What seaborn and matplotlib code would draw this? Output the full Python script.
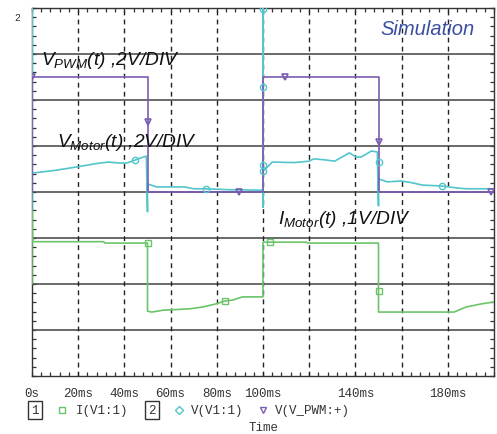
import matplotlib
matplotlib.use("Agg")
import matplotlib.pyplot as plt
from matplotlib.lines import Line2D
from matplotlib.ticker import MultipleLocator, FixedLocator
import seaborn as sns
import pandas as pd

# ---- waveform data (time in ms, amplitude in screen divisions) ----
pwm_t = [0, 0, 50, 50, 100, 100, 150, 150, 200]
pwm_v = [4.0, 6.5, 6.5, 4.0, 4.0, 6.5, 6.5, 4.0, 4.0]

motor_v_t = [0, 0, 0, 10, 20, 28, 33, 38, 41, 45, 47, 49.5,
             50, 50, 50.3, 54, 66, 70, 75, 85, 100,
             100, 100, 100, 100.3, 104, 113.6, 120, 122, 126.6, 131, 137.4, 140.4, 142.5, 146.9, 149.5,
             150, 150, 150.3, 153.8, 159.8, 164.6, 169, 177.5, 183.6, 188, 200]
motor_v_v = [3.6, 8.6, 4.41, 4.47, 4.55, 4.62, 4.65, 4.63, 4.63, 4.70, 4.74, 4.78,
             3.57, 4.17, 4.17, 4.11, 4.11, 4.07, 4.07, 4.05, 4.04,
             3.67, 8.6, 4.60, 4.46, 4.65, 4.64, 4.67, 4.72, 4.70, 4.67, 4.85, 4.76, 4.76, 4.89, 4.87,
             3.70, 4.28, 4.28, 4.22, 4.24, 4.20, 4.15, 4.13, 4.09, 4.07, 4.07]

motor_i_t = [0, 0, 0.3, 31, 31.5, 50, 50, 51.8, 54.4, 56.6, 68.3, 73.9, 79.9, 83.4, 86.8, 91.1, 100,
             100, 118.8, 119.3, 150, 150, 182.7, 187.9, 194.8, 200]
motor_i_v = [2.0, 3.6, 2.92, 2.92, 2.89, 2.89, 1.41, 1.39, 1.41, 1.43, 1.46, 1.50, 1.57, 1.63, 1.65, 1.72, 1.72,
             2.91, 2.91, 2.89, 2.89, 1.39, 1.39, 1.50, 1.57, 1.61]

# trace symbols placed along each waveform
pwm_mark_t = [0, 50, 89.8, 109.7, 150.3, 198.7]
pwm_mark_v = [6.5, 5.52, 4.0, 6.5, 5.08, 4.0]
motor_v_mark_t = [44.5, 75.5, 100, 100, 100, 100, 150.3, 177.5]
motor_v_mark_v = [4.70, 4.07, 7.98, 6.28, 4.59, 4.46, 4.65, 4.13]
motor_i_mark_t = [50, 83.4, 103, 150.3]
motor_i_mark_v = [2.89, 1.63, 2.92, 1.85]

x_ticks = [0, 20, 40, 60, 80, 100, 120, 140, 160, 180, 200]
x_tick_labels = ["0s", "20ms", "40ms", "60ms", "80ms", "100ms", "", "140ms", "", "180ms", ""]

C_PWM = "#7a5cb2"
C_VM = "#52c6cb"
C_IM = "#6cc46a"
C_TXT = "#333333"

sns.set_theme(style="white")
plt.rcParams["mathtext.fontset"] = "custom"
plt.rcParams["mathtext.it"] = "Liberation Sans:italic"
plt.rcParams["mathtext.rm"] = "Liberation Sans:italic"
plt.rcParams["mathtext.default"] = "it"

W, H = 497, 435
fig = plt.figure(figsize=(W / 100, H / 100), dpi=100)
ax = fig.add_axes([32 / W, 1 - 377 / H, (494 - 32) / W, (377 - 9) / H])

df_pwm = pd.DataFrame({"t": pwm_t, "v": pwm_v})
df_vm = pd.DataFrame({"t": motor_v_t, "v": motor_v_v})
df_im = pd.DataFrame({"t": motor_i_t, "v": motor_i_v})

# grid: solid divisions horizontally, dashed verticals every 20 ms
for d in range(1, 8):
    ax.axhline(d, color="#505050", lw=1.2, zorder=1)
for t in x_ticks[1:-1]:
    ax.axvline(t, color="#222222", lw=1.0, ls=(0, (3.5, 3)), zorder=1)

sns.lineplot(data=df_im, x="t", y="v", sort=False, estimator=None, color=C_IM, lw=1.2, ax=ax, zorder=3)
sns.lineplot(data=df_vm, x="t", y="v", sort=False, estimator=None, color=C_VM, lw=1.2, ax=ax, zorder=3)
sns.lineplot(data=df_pwm, x="t", y="v", sort=False, estimator=None, color=C_PWM, lw=1.2, ax=ax, zorder=4)

ax.plot(motor_i_mark_t, motor_i_mark_v, ls="none", marker="s", ms=5, mfc="none", mec=C_IM, mew=1.0, zorder=5)
ax.plot(motor_v_mark_t, motor_v_mark_v, ls="none", marker="o", ms=4.5, mfc="none", mec=C_VM, mew=1.0, zorder=5)
ax.plot(pwm_mark_t, pwm_mark_v, ls="none", marker="v", ms=5, mfc="none", mec=C_PWM, mew=1.2, zorder=5)

ax.set_xlim(0, 200)
ax.set_ylim(0, 8)
ax.set_xlabel("")
ax.set_ylabel("")
ax.xaxis.set_major_locator(FixedLocator(x_ticks))
ax.set_xticklabels(x_tick_labels)
ax.xaxis.set_minor_locator(MultipleLocator(4))
ax.yaxis.set_major_locator(MultipleLocator(1))
ax.yaxis.set_minor_locator(MultipleLocator(0.2))
ax.set_yticklabels([])
ax.tick_params(which="both", direction="in", top=True, right=True, bottom=True, left=True,
               length=3, width=0.9, color="#333333")
ax.tick_params(axis="x", which="major", pad=8, labelsize=9, labelcolor=C_TXT)
for lbl in ax.get_xticklabels():
    lbl.set_family("Liberation Mono")
for s in ax.spines.values():
    s.set_color("#333333")
    s.set_linewidth(1.0)
    s.set_visible(True)
    s.set_zorder(2.5)


def px(x, y):
    return x / W, 1 - y / H


# trace captions
cap = dict(family="Liberation Sans", style="italic", fontsize=13.8, color="#111111", va="baseline", ha="left")
fig.text(*px(41, 65), r"$V_{PWM}$(t) ,2V/DIV", **cap)
fig.text(*px(57, 147), r"$V_{Motor}$(t) ,2V/DIV", **cap)
fig.text(*px(278, 224), r"$I_{Motor}$(t) ,1V/DIV", **cap)
fig.text(*px(380, 35), "Simulation", family="Liberation Sans", style="italic", fontsize=14.5,
         color="#3a4ea2", va="baseline", ha="left")

mono = dict(family="Liberation Mono", fontsize=9, color=C_TXT, va="center")
fig.text(*px(17, 18), "2", ha="center", fontsize=7, family="Liberation Mono", color=C_TXT, va="center")

# trace legend below the time axis
box = dict(boxstyle="square,pad=0.25", fc="white", ec="#333333", lw=1.0)
fig.text(*px(35, 411), "1", ha="center", bbox=box, **mono)
fig.add_artist(Line2D([62 / W], [1 - 411 / H], marker="s", ms=4.5, mfc="none", mec=C_IM, mew=1.0,
                      transform=fig.transFigure))
fig.text(*px(76, 411), "I(V1:1)", ha="left", **mono)
fig.text(*px(152, 411), "2", ha="center", bbox=box, **mono)
fig.add_artist(Line2D([179 / W], [1 - 411 / H], marker="D", ms=4, mfc="none", mec=C_VM, mew=1.0,
                      transform=fig.transFigure))
fig.text(*px(191, 411), "V(V1:1)", ha="left", **mono)
fig.add_artist(Line2D([263 / W], [1 - 411 / H], marker="v", ms=4.5, mfc="none", mec=C_PWM, mew=1.0,
                      transform=fig.transFigure))
fig.text(*px(275, 411), "V(V_PWM:+)", ha="left", **mono)
fig.text(*px(264, 428), "Time", ha="center", **mono)

fig.savefig("out.png", dpi=100)
